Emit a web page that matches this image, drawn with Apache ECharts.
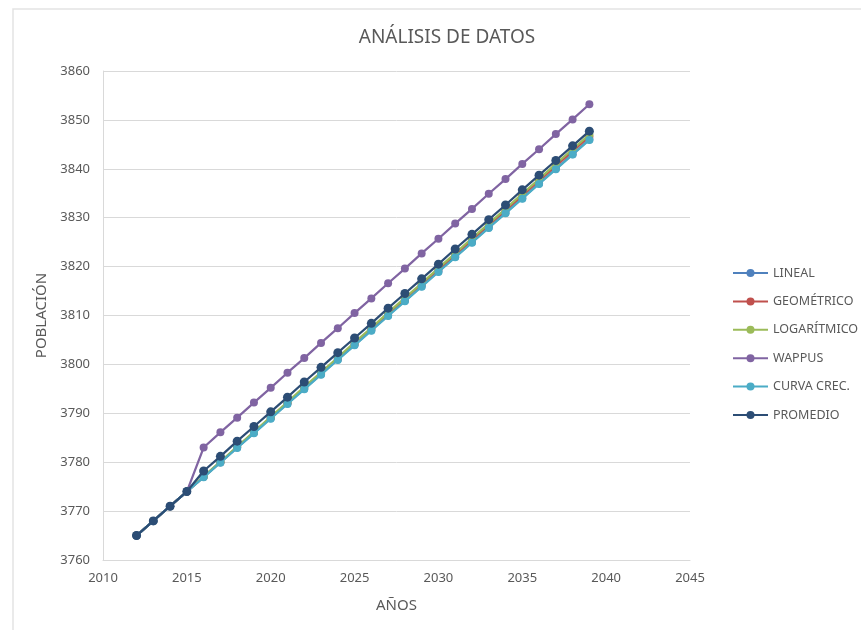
<!DOCTYPE html>
<html lang="es">
<head>
    <meta charset="UTF-8">
    <title>Análisis de datos</title>
    <script src="https://cdn.jsdelivr.net/npm/echarts@6/dist/echarts.min.js"></script>
    <style>
        html, body { margin: 0; padding: 0; background: #fff; }
    </style>
</head>
<body>
<div id="chart" style="width: 861px; height: 630px;"></div>
<script type="text/javascript">
    // datos
    var years = [2012, 2013, 2014, 2015, 2016, 2017, 2018, 2019, 2020, 2021, 2022, 2023, 2024, 2025,
        2026, 2027, 2028, 2029, 2030, 2031, 2032, 2033, 2034, 2035, 2036, 2037, 2038, 2039];

    var lineal = [3765, 3768, 3771, 3774, 3777, 3780, 3783, 3786, 3789, 3792, 3795, 3798, 3801, 3804,
        3807, 3810, 3813, 3816, 3819, 3822, 3825, 3828, 3831, 3834, 3837, 3840, 3843, 3846];
    var geometrico = [3765, 3768, 3771, 3774, 3777.0, 3780.0, 3783.1, 3786.1, 3789.1, 3792.1, 3795.2, 3798.2,
        3801.2, 3804.2, 3807.3, 3810.3, 3813.3, 3816.4, 3819.4, 3822.4, 3825.4, 3828.5, 3831.5, 3834.5,
        3837.6, 3840.6, 3843.6, 3846.6];
    var logaritmico = [3765, 3768, 3771, 3774, 3777.1, 3780.1, 3783.2, 3786.2, 3789.3, 3792.3, 3795.4, 3798.4,
        3801.4, 3804.5, 3807.5, 3810.6, 3813.6, 3816.6, 3819.7, 3822.7, 3825.8, 3828.8, 3831.8, 3834.9,
        3837.9, 3841.0, 3844.0, 3847.0];
    var wappus = [3765, 3768, 3771, 3774, 3783.0, 3786.1, 3789.1, 3792.2, 3795.2, 3798.3, 3801.3, 3804.4,
        3807.4, 3810.5, 3813.5, 3816.6, 3819.6, 3822.7, 3825.7, 3828.8, 3831.8, 3834.9, 3837.9, 3841.0,
        3844.0, 3847.1, 3850.1, 3853.2];
    var curva = [3765, 3768, 3771, 3774, 3776.9, 3779.9, 3782.9, 3785.9, 3788.9, 3791.9, 3794.9, 3797.9,
        3800.9, 3803.9, 3806.9, 3809.9, 3812.9, 3815.9, 3818.9, 3821.9, 3824.9, 3827.9, 3830.9, 3833.9,
        3836.9, 3839.9, 3842.9, 3845.9];
    var promedio = [3765, 3768, 3771, 3774, 3778.2, 3781.2, 3784.3, 3787.3, 3790.3, 3793.3, 3796.4, 3799.4,
        3802.4, 3805.4, 3808.4, 3811.5, 3814.5, 3817.5, 3820.5, 3823.6, 3826.6, 3829.6, 3832.6, 3835.7,
        3838.7, 3841.7, 3844.7, 3847.7];

    var seriesNames = ['LINEAL', 'GEOMÉTRICO', 'LOGARÍTMICO', 'WAPPUS', 'CURVA CREC.', 'PROMEDIO'];
    var seriesData = [lineal, geometrico, logaritmico, wappus, curva, promedio];
    var colors = ['#4F81BD', '#C0504D', '#9BBB59', '#8064A2', '#4BACC6', '#2C4D75'];

    var fuente = '"Noto Sans", "Open Sans", sans-serif';
    var gris = '#595959';

    function pares(vals) {
        return years.map(function (y, i) { return [y, vals[i]]; });
    }

    // sin separador de miles
    function sinMiles(v) { return String(v); }

    var series = seriesNames.map(function (name, k) {
        return {
            name: name,
            type: 'line',
            data: pares(seriesData[k]),
            symbol: 'circle',
            symbolSize: k === 5 ? 9 : 8,
            lineStyle: { width: 2.25, color: colors[k] },
            itemStyle: { color: colors[k] },
            z: 2 + k
        };
    });

    var chart = echarts.init(document.getElementById('chart'));
    chart.setOption({
        animation: false,
        color: colors,
        textStyle: { fontFamily: fuente },
        title: {
            text: 'ANÁLISIS DE DATOS',
            left: 442,
            textAlign: 'center',
            top: 23,
            textStyle: { fontSize: 19, fontWeight: 'normal', color: gris, fontFamily: fuente }
        },
        graphic: [{
            type: 'rect',
            shape: { x: 13, y: 9, width: 900, height: 700 },
            style: { fill: 'none', stroke: '#E3E3E3', lineWidth: 1.5 },
            silent: true
        }],
        legend: {
            orient: 'vertical',
            left: 727,
            top: 260,
            itemWidth: 35,
            itemHeight: 10,
            itemGap: 12.4,
            textStyle: { fontSize: 12.5, lineHeight: 16, color: gris, fontFamily: fuente },
            data: seriesNames
        },
        grid: { left: 103, right: 171, top: 71, bottom: 70 },
        xAxis: {
            type: 'value',
            min: 2010,
            max: 2045,
            interval: 5,
            name: 'AÑOS',
            nameLocation: 'middle',
            nameGap: 38,
            nameTextStyle: { fontSize: 15, color: gris, fontFamily: fuente },
            axisLine: { lineStyle: { color: '#D9D9D9', width: 1 } },
            axisTick: { show: false },
            axisLabel: { fontSize: 13, color: gris, margin: 12, formatter: sinMiles },
            splitLine: { show: false }
        },
        yAxis: {
            type: 'value',
            min: 3760,
            max: 3860,
            interval: 10,
            name: 'POBLACIÓN',
            nameLocation: 'middle',
            nameGap: 52,
            nameTextStyle: { fontSize: 15, color: gris, fontFamily: fuente },
            axisLine: { show: true, lineStyle: { color: '#D9D9D9', width: 1 } },
            axisTick: { show: false },
            axisLabel: { fontSize: 13, color: gris, margin: 13, formatter: sinMiles },
            splitLine: { lineStyle: { color: '#D9D9D9', width: 1 } }
        },
        series: series
    });
</script>
</body>
</html>
